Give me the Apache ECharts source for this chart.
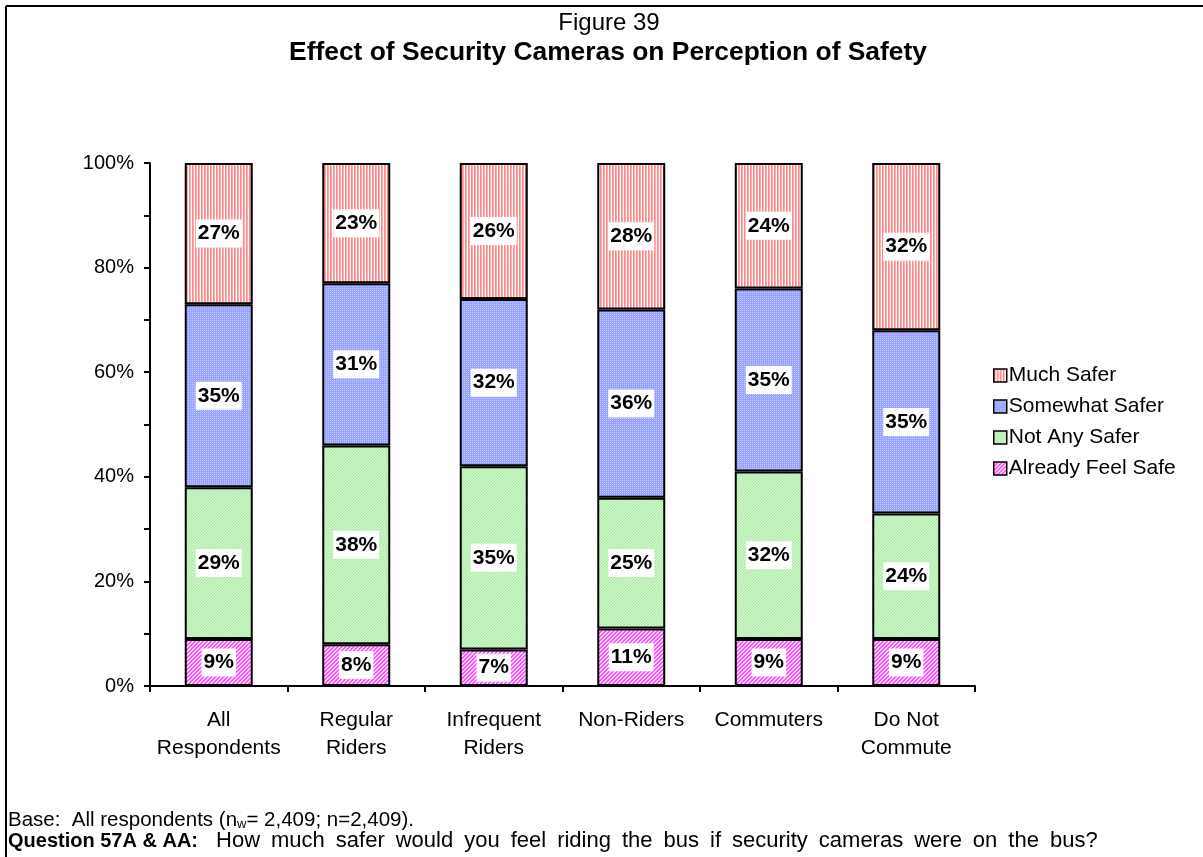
<!DOCTYPE html>
<html>
<head>
<meta charset="utf-8">
<script src="https://cdn.jsdelivr.net/npm/echarts@6/dist/echarts.min.js"></script>
<style>html,body{margin:0;padding:0;background:#fff;}#c{width:1203px;height:857px;}</style>
</head>
<body>
<div id="c"></div>
<script>
var categories = ['All\nRespondents', 'Regular\nRiders', 'Infrequent\nRiders', 'Non-Riders', 'Commuters', 'Do Not\nCommute'];
var alreadyFeelSafe = [9, 8, 7, 11, 9, 9];
var notAnySafer = [29, 38, 35, 25, 32, 24];
var somewhatSafer = [35, 31, 32, 36, 35, 35];
var muchSafer = [27, 23, 26, 28, 24, 32];
var yTicks = [0, 20, 40, 60, 80, 100];
var questionText = 'How much safer would you feel riding the bus if security cameras were on the bus?';

function makePattern(w, h, draw) {
  var c = document.createElement('canvas');
  c.width = w; c.height = h;
  var ctx = c.getContext('2d');
  draw(ctx);
  return { image: c, repeat: 'repeat' };
}
var pinkPat = makePattern(3, 1, function (ctx) {
  ctx.fillStyle = '#ffffff'; ctx.fillRect(0, 0, 3, 1);
  ctx.fillStyle = '#ff8888'; ctx.fillRect(0, 0, 1, 1);
  ctx.fillStyle = '#ffaaaa'; ctx.fillRect(1, 0, 1, 1);
});
var bluePat = makePattern(2, 2, function (ctx) {
  ctx.fillStyle = '#9aa2ff'; ctx.fillRect(0, 0, 2, 2);
  ctx.fillStyle = '#c4caff'; ctx.fillRect(0, 0, 1, 1);
});
var greenPat = makePattern(3, 3, function (ctx) {
  ctx.fillStyle = '#ccf5c8'; ctx.fillRect(0, 0, 3, 3);
  ctx.fillStyle = '#a8e8a0'; ctx.fillRect(0, 0, 1, 1); ctx.fillRect(2, 1, 1, 1); ctx.fillRect(1, 2, 1, 1);
});
var magPat = makePattern(4, 4, function (ctx) {
  ctx.fillStyle = '#ffd0ff'; ctx.fillRect(0, 0, 4, 4);
  ctx.fillStyle = '#ff55ff';
  for (var i = 0; i < 4; i++) { ctx.fillRect(i, 3 - i, 1, 1); ctx.fillRect((i + 1) % 4, 3 - i, 1, 1); }
});

var FONT = 'Liberation Sans, Arial, sans-serif';
var labelStyle = {
  show: true, position: 'inside', formatter: '{c}%',
  color: '#000', fontWeight: 'bold', fontSize: 21, fontFamily: FONT,
  backgroundColor: '#fff', padding: [4, 2, 3, 2]
};
function mk(name, data, pat) {
  return {
    name: name, type: 'bar', stack: 'all', data: data, barWidth: 68,
    itemStyle: { color: pat, borderColor: '#000', borderWidth: 2 },
    label: labelStyle
  };
}

var qWords = questionText.split(' ');
var qRich = '{b|Question 57A & AA:}{sp2| }' + qWords.map(function (w) { return '{n|' + w + '}'; }).join('{sp| }');

var chart = echarts.init(document.getElementById('c'), null, { renderer: 'canvas' });
chart.setOption({
  backgroundColor: '#fff',
  animation: false,
  grid: { left: 150, right: 228, top: 163, bottom: 171 },
  legend: {
    orient: 'vertical', left: 988, top: 360, itemWidth: 13, itemHeight: 13, itemGap: 10,
    icon: 'rect',
    data: ['Much Safer', 'Somewhat Safer', 'Not Any Safer', 'Already Feel Safe'],
    textStyle: { fontSize: 21, color: '#000', fontFamily: FONT, padding: [0, 0, 0, -3] },
    itemStyle: { borderColor: '#000', borderWidth: 1.5 }
  },
  xAxis: {
    type: 'category', data: categories,
    axisLine: { lineStyle: { color: '#000', width: 2 } },
    axisTick: { show: true, length: 6, lineStyle: { color: '#000', width: 2 } },
    axisLabel: { color: '#000', fontSize: 21, fontFamily: FONT, lineHeight: 28, margin: 20, interval: 0 }
  },
  yAxis: {
    type: 'value', min: 0, max: 100, interval: 10,
    axisLine: { show: true, lineStyle: { color: '#000', width: 2 } },
    axisTick: { show: true, length: 6, lineStyle: { color: '#000', width: 2 } },
    splitLine: { show: false },
    axisLabel: {
      color: '#000', fontSize: 20, fontFamily: FONT, margin: 16,
      formatter: function (v) { return yTicks.indexOf(v) >= 0 ? v + '%' : ''; }
    }
  },
  series: [
    mk('Already Feel Safe', alreadyFeelSafe, magPat),
    mk('Not Any Safer', notAnySafer, greenPat),
    mk('Somewhat Safer', somewhatSafer, bluePat),
    mk('Much Safer', muchSafer, pinkPat)
  ],
  graphic: [
    { type: 'line', shape: { x1: 6, y1: 6, x2: 1203, y2: 6 }, style: { stroke: '#000', lineWidth: 2 } },
    { type: 'line', shape: { x1: 6, y1: 6, x2: 6, y2: 857 }, style: { stroke: '#000', lineWidth: 2 } },
    { type: 'text', x: 609, y: 23, style: { text: 'Figure 39', fontSize: 24, fontFamily: FONT, fill: '#000', textAlign: 'center', textVerticalAlign: 'middle' } },
    { type: 'text', x: 608, y: 53, style: { text: 'Effect of Security Cameras on Perception of Safety', fontSize: 26.4, fontWeight: 'bold', fontFamily: FONT, fill: '#000', textAlign: 'center', textVerticalAlign: 'middle' } },
    { type: 'text', x: 8, y: 820, style: {
        text: '{n|Base:  All respondents (n}{s|w}{n|= 2,409; n=2,409).}',
        rich: { n: { fontSize: 20.5, fontFamily: FONT, fill: '#000' }, s: { fontSize: 13, fontFamily: FONT, fill: '#000', padding: [8, 0, 0, 0] } },
        textVerticalAlign: 'middle' } },
    { type: 'text', x: 8, y: 841, style: {
        text: qRich,
        rich: {
          b: { fontSize: 20, fontWeight: 'bold', fontFamily: FONT, fill: '#000' },
          n: { fontSize: 22, fontFamily: FONT, fill: '#000' },
          sp: { fontSize: 22, fontFamily: FONT, width: 11 },
          sp2: { fontSize: 22, fontFamily: FONT, width: 18 }
        },
        textVerticalAlign: 'middle' } }
  ]
});
</script>
</body>
</html>
